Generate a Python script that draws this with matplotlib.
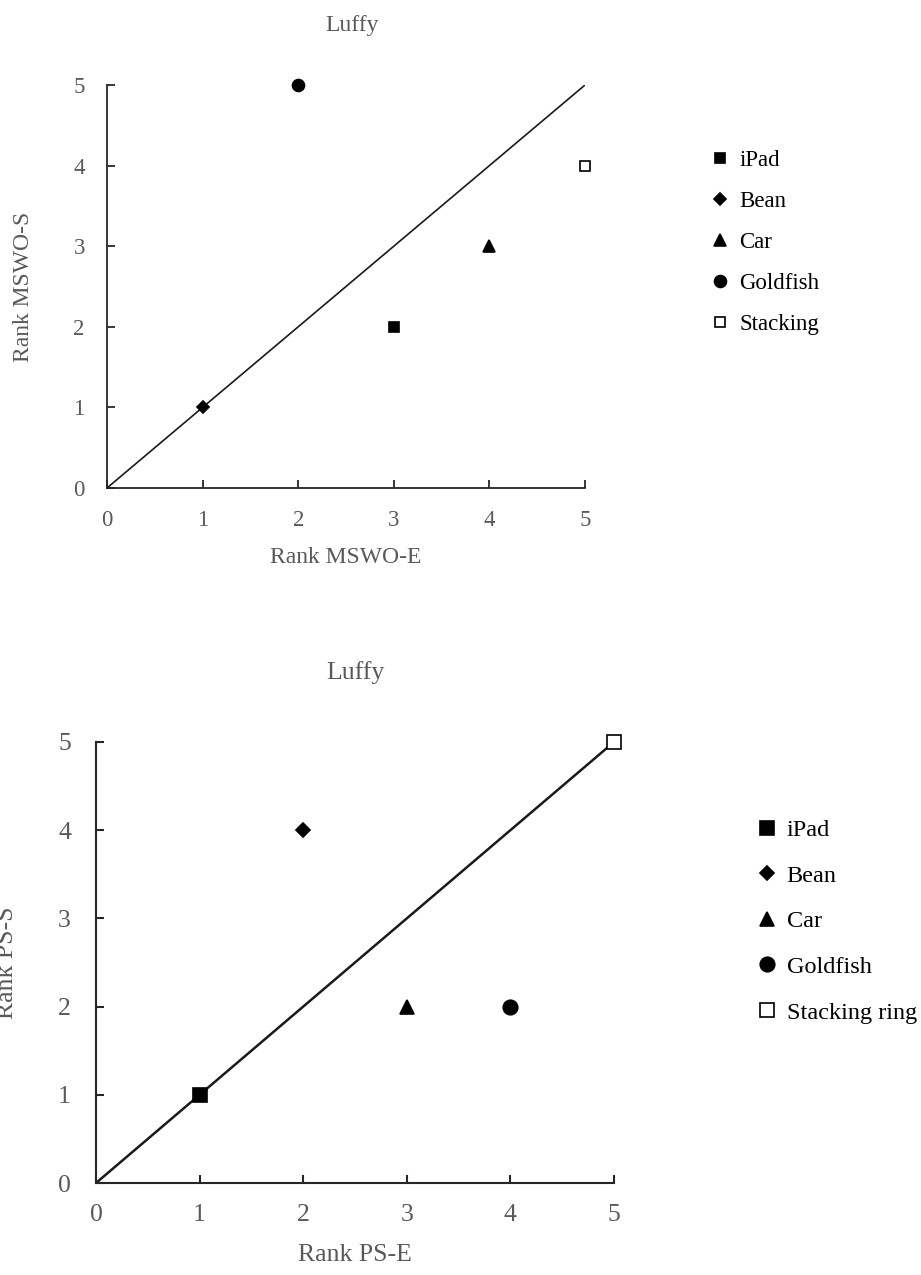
import matplotlib
matplotlib.use("Agg")
import matplotlib.pyplot as plt

plt.rcParams['font.family'] = ['Liberation Serif', 'DejaVu Serif']

# Data
items_top = ["iPad", "Bean", "Car", "Goldfish", "Stacking"]
top_x = [3, 1, 4, 2, 5]   # Rank MSWO-E
top_y = [2, 1, 3, 5, 4]   # Rank MSWO-S

items_bot = ["iPad", "Bean", "Car", "Goldfish", "Stacking ring"]
bot_x = [1, 2, 3, 4, 5]   # Rank PS-E
bot_y = [1, 4, 2, 2, 5]   # Rank PS-S

ticks = [0, 1, 2, 3, 4, 5]
diag = [0, 5]

markers = ['s', 'D', '^', 'o', 's']
filled = [True, True, True, True, False]

GRAY = '#595959'
W, H = 921, 1275

fig = plt.figure(figsize=(W / 100, H / 100), dpi=100)


def style_axes(ax, fs_tick, lw, xpad, ypad):
    ax.set_xlim(0, 5)
    ax.set_ylim(0, 5)
    ax.set_xticks(ticks)
    ax.set_yticks(ticks)
    for s in ['top', 'right']:
        ax.spines[s].set_visible(False)
    for s in ['left', 'bottom']:
        ax.spines[s].set_linewidth(lw)
        ax.spines[s].set_color('#262626')
    ax.tick_params(direction='in', length=6, width=lw, color='#262626',
                   labelsize=fs_tick, labelcolor=GRAY)
    ax.tick_params(axis='x', pad=xpad)
    ax.tick_params(axis='y', pad=ypad)
    ax.patch.set_alpha(0)


def draw(ax, xs, ys, names, ms, lw_line, mscale):
    ax.plot(diag, diag, color='#1a1a1a', lw=lw_line, zorder=2)
    handles = []
    for x, y, n, m, f in zip(xs, ys, names, markers, filled):
        size = ms * mscale.get(m, 1.0)
        h, = ax.plot([x], [y], linestyle='none', marker=m, markersize=size,
                     markerfacecolor='black' if f else 'white',
                     markeredgecolor='black', markeredgewidth=1.2,
                     label=n, zorder=3, clip_on=False)
        handles.append(h)
    return handles


mscale = {'s': 1.0, 'D': 0.8, '^': 1.05, 'o': 1.1}

# Top panel
ax1 = fig.add_axes([107 / W, 1 - 488 / H, 478 / W, 403 / H])
style_axes(ax1, 16.5, 1.3, 16, 16)
h1 = draw(ax1, top_x, top_y, items_top, 7.8, 1.2, mscale)
ax1.set_xlabel("Rank MSWO-E", fontsize=17, color=GRAY, labelpad=11)
ax1.set_ylabel("Rank MSWO-S", fontsize=17, color=GRAY)
ax1.yaxis.set_label_coords(-0.152, 0.5)
fig.text(352 / W, 1 - 25 / H, "Luffy", fontsize=17, color=GRAY,
         ha='center', va='center')
fig.legend(handles=h1, loc='upper left', bbox_to_anchor=(697 / W, 1 - 139 / H),
           frameon=False, fontsize=16.5, labelspacing=0.87, handletextpad=0.35,
           handlelength=1.0, borderpad=0)

# Bottom panel
ax2 = fig.add_axes([96 / W, 1 - 1183 / H, 518 / W, 441 / H])
style_axes(ax2, 18.5, 1.5, 15, 18)
h2 = draw(ax2, bot_x, bot_y, items_bot, 9.5, 1.8, mscale)
ax2.set_xlabel("Rank PS-E", fontsize=18.5, color=GRAY, labelpad=13)
ax2.set_ylabel("Rank PS-S", fontsize=18.5, color=GRAY)
ax2.yaxis.set_label_coords(-0.15, 0.5)
fig.text(355 / W, 1 - 673 / H, "Luffy", fontsize=18.5, color=GRAY,
         ha='center', va='center')
fig.legend(handles=h2, loc='upper left', bbox_to_anchor=(743 / W, 1 - 807 / H),
           frameon=False, fontsize=17.5, labelspacing=0.97, handletextpad=0.3,
           handlelength=1.0, borderpad=0)

fig.savefig("out.png", dpi=100)
